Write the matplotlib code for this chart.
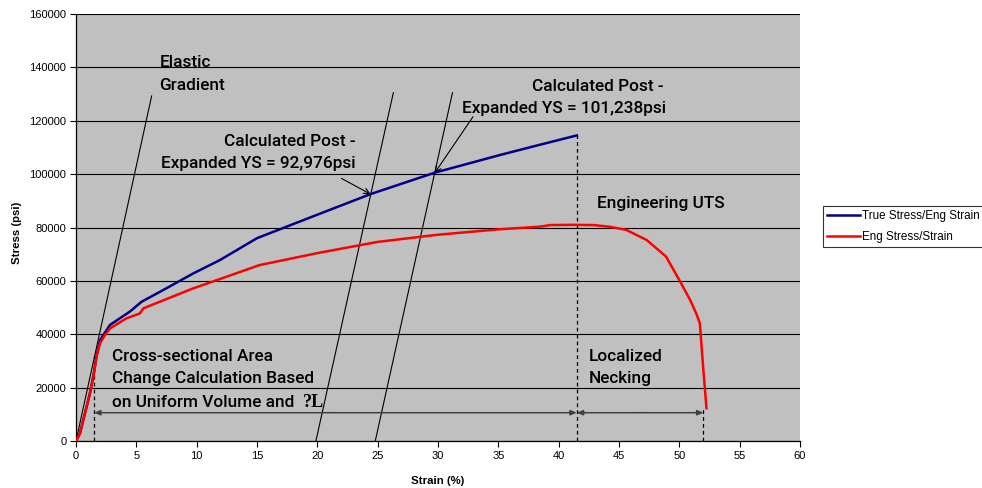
import matplotlib
matplotlib.use("Agg")
import matplotlib.pyplot as plt

# ---- data (strain %, stress psi) ----
eng_strain = [0, 0.05, 0.33, 1.16, 1.44, 1.71, 1.99, 2.40, 2.82, 4.2, 5.3, 5.58, 6.96, 9.72,
              12.5, 15.2, 20, 25, 30, 35, 38.4, 39.3, 41, 42.9, 44.2, 45.6, 47.3, 48.9,
              50.0, 50.9, 51.4, 51.7, 51.97, 52.25]
eng_stress = [0, 400, 2900, 17900, 24100, 31600, 36600, 39700, 42200, 46000, 47800, 49700,
              52200, 57200, 61600, 65900, 70400, 74600, 77300, 79300, 80300, 80900, 81000,
              80900, 80300, 79100, 75300, 69100, 60300, 52800, 47800, 44100, 27800, 12300]

true_strain = [0, 0.05, 0.33, 1.16, 1.44, 1.71, 1.99, 2.82, 4.47, 5.44, 6.96, 9.72, 11.93,
               15, 20, 24.4, 29.7, 35, 38, 41.5]
true_stress = [0, 400, 2900, 18000, 24500, 32000, 37800, 43500, 48500, 52200, 55900, 62800,
               67800, 76000, 84800, 92500, 100500, 107000, 110500, 114500]

# Elastic gradient and offset lines: (start strain, start stress, end strain, end stress)
elastic_line = [0, 0, 6.27, 129300]
offset_line_1 = [19.88, 0, 26.3, 130500]
offset_line_2 = [24.8, 0, 31.2, 130500]

uniform_limit = 1.5
uts_strain = 41.5
uts_true_stress = 114500
fracture_strain = 52.0
fracture_stress = 12300
dim_stress = 10600

ys1_point = [24.41, 92500]
ys2_point = [29.74, 100500]

x_ticks = list(range(0, 61, 5))
y_ticks = list(range(0, 160001, 20000))

SANS = ['Liberation Sans', 'DejaVu Sans']
SERIF = ['Liberation Serif', 'DejaVu Serif']
NOTE = ['Roboto', 'Liberation Sans', 'DejaVu Sans']

fig = plt.figure(figsize=(9.82, 4.88), dpi=100)
ax = fig.add_axes([76/982, 1-441/488, (800-76)/982, (441-14)/488])
ax.set_facecolor('#C0C0C0')

ax.set_xlim(0, 60)
ax.set_ylim(0, 160000)
ax.set_xticks(x_ticks)
ax.set_yticks(y_ticks)
ax.set_xticklabels([str(v) for v in x_ticks], fontsize=8, family=SANS)
ax.set_yticklabels([str(v) for v in y_ticks], fontsize=8, family=SANS)
ax.tick_params(direction='out', length=4, width=0.8, pad=3)
ax.yaxis.grid(True, color='black', lw=0.8)
ax.set_axisbelow(True)
for s in ['top', 'right']:
    ax.spines[s].set_visible(False)
for s in ['left', 'bottom']:
    ax.spines[s].set_linewidth(0.9)

ax.set_xlabel('Strain (%)', fontsize=8.2, fontweight='bold', family=SANS)
ax.set_ylabel('Stress (psi)', fontsize=8.2, fontweight='bold', family=SANS)
ax.xaxis.set_label_coords(0.4993, -0.082)
ax.yaxis.set_label_coords(-0.075, 0.487)

# straight reference lines
for ln in (elastic_line, offset_line_1, offset_line_2):
    ax.plot([ln[0], ln[2]], [ln[1], ln[3]], color='black', lw=0.8, zorder=2)

# curves
ax.plot(true_strain, true_stress, color='#000088', lw=1.8, label='True Stress/Eng Strain', zorder=4)
ax.plot(eng_strain, eng_stress, color='#FF0000', lw=1.8, label='Eng Stress/Strain', zorder=5)

# dashed verticals
dash = (0, (3, 2.5))
ax.plot([uniform_limit, uniform_limit], [0, 32000], color='black', lw=0.9, ls=dash, zorder=3)
ax.plot([uts_strain, uts_strain], [0, uts_true_stress], color='black', lw=0.9, ls=dash, zorder=3)
ax.plot([fracture_strain, fracture_strain], [0, fracture_stress], color='black', lw=0.9, ls=dash, zorder=3)

# dimension arrows
dim_kw = dict(arrowstyle='-|>,head_length=0.35,head_width=0.15', color='#404040', lw=1.1,
              shrinkA=0, shrinkB=0)
mid1 = (uniform_limit + uts_strain) / 2
mid2 = (uts_strain + fracture_strain) / 2
ax.annotate('', xy=(uniform_limit, dim_stress), xytext=(mid1, dim_stress), arrowprops=dim_kw, zorder=3)
ax.annotate('', xy=(uts_strain, dim_stress), xytext=(mid1, dim_stress), arrowprops=dim_kw, zorder=3)
ax.annotate('', xy=(uts_strain, dim_stress), xytext=(mid2, dim_stress), arrowprops=dim_kw, zorder=3)
ax.annotate('', xy=(fracture_strain, dim_stress), xytext=(mid2, dim_stress), arrowprops=dim_kw, zorder=3)

# fit note font size to reference width of "Engineering UTS" (~127 px)
renderer = fig.canvas.get_renderer()
probe = fig.text(0, 0, 'Engineering UTS', fontsize=12, family=NOTE, fontweight='medium')
w = probe.get_window_extent(renderer).width
probe.remove()
FS = 12 * 127.3 / w

# texts (one line per text, baseline aligned)
tkw = dict(fontsize=FS, family=NOTE, fontweight='medium', color='black', va='baseline')
ax.text(6.90, 140200, 'Elastic', ha='left', **tkw)
ax.text(6.90, 131500, 'Gradient', ha='left', **tkw)

ax.text(23.2, 110500, 'Calculated Post -', ha='right', **tkw)
ax.text(23.2, 102200, 'Expanded YS = 92,976psi', ha='right', **tkw)
ax.annotate('', xy=ys1_point, xytext=(22.0, 98400),
            arrowprops=dict(arrowstyle='->', color='black', lw=0.8, shrinkA=0, shrinkB=0))

ax.text(48.7, 131100, 'Calculated Post -', ha='right', **tkw)
ax.text(48.9, 122800, 'Expanded YS = 101,238psi', ha='right', **tkw)
ax.annotate('', xy=ys2_point, xytext=(32.9, 121500),
            arrowprops=dict(arrowstyle='->', color='black', lw=0.8, shrinkA=0, shrinkB=0))

ax.text(43.14, 87200, 'Engineering UTS', ha='left', **tkw)

ax.text(2.96, 30100, 'Cross-sectional Area', ha='left', **tkw)
ax.text(2.96, 21600, 'Change Calculation Based', ha='left', **tkw)
t3 = ax.text(2.96, 12850, 'on Uniform Volume and', ha='left', **tkw)
bb = t3.get_window_extent(renderer)
x_end = ax.transData.inverted().transform((bb.x1 + 9, bb.y0))[0]
ax.text(x_end, 12850, '?L', ha='left', va='baseline', fontsize=13, fontweight='bold', family=SERIF)

ax.text(42.5, 30100, 'Localized', ha='left', **tkw)
ax.text(42.5, 21600, 'Necking', ha='left', **tkw)

leg = fig.legend(loc='upper left', bbox_to_anchor=(822.7/982, 1-206/488),
                 prop={'family': SANS, 'size': 8.4}, frameon=True, fancybox=False,
                 edgecolor='black', handlelength=2.8, borderpad=0.38, labelspacing=0.7,
                 handletextpad=0.2, borderaxespad=0)
leg.get_frame().set_linewidth(0.8)

fig.savefig('out.png', dpi=100)
